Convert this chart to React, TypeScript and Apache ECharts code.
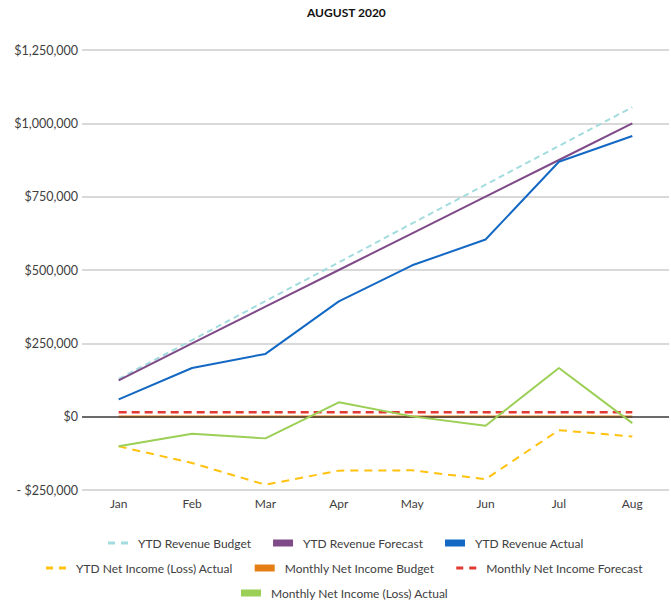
import React, { useEffect, useRef } from "react";
import * as echarts from "echarts";

const months = ["Jan", "Feb", "Mar", "Apr", "May", "Jun", "Jul", "Aug"];
const ytdRevenueBudget = [129000, 261000, 394000, 526000, 659000, 791000, 923000, 1055000];
const ytdRevenueForecast = [124000, 250000, 375000, 500000, 625000, 750000, 875000, 1000000];
const ytdRevenueActual = [59000, 166000, 214000, 393000, 516000, 604000, 869000, 957000];
const ytdNetIncomeActual = [-101000, -158000, -232000, -184000, -183000, -213000, -46000, -68000];
const monthlyNetIncomeBudget = [0, 0, 0, 0, 0, 0, 0, 0];
const monthlyNetIncomeForecast = [15000, 15000, 15000, 15000, 15000, 15000, 15000, 15000];
const monthlyNetIncomeActual = [-101000, -58000, -74000, 49000, 1000, -31000, 166000, -22000];

const FONT = "Lato";
const TXT = "#404040";
const DASH_ICON = "path://M0,0H7V3H0Z M13,0H20V3H13Z";

function fmt(v: number) {
  if (v === 0) return "$0";
  const s = "$" + Math.abs(v).toLocaleString("en-US");
  return v < 0 ? "- " + s : s;
}

export default function App() {
  const ref = useRef<HTMLDivElement>(null);
  useEffect(() => {
    document.body.style.margin = "0";
    const chart = echarts.init(ref.current!, null, { renderer: "svg" });
    const legendBase = {
      itemWidth: 20,
      itemHeight: 7,
      itemGap: 22,
      textStyle: { fontFamily: FONT, fontSize: 12, color: TXT, padding: [0, 0, 0, 5] },
    };
    chart.setOption({
      animation: false,
      textStyle: { fontFamily: FONT },
      title: {
        text: "AUGUST 2020",
        left: 302,
        top: 1,
        textStyle: { fontFamily: FONT, fontSize: 12, fontWeight: "bold", color: "#111" },
      },
      legend: [
        {
          ...legendBase,
          left: 103,
          top: 532,
          data: [
            { name: "YTD Revenue Budget", icon: DASH_ICON },
            { name: "YTD Revenue Forecast", icon: "rect" },
            { name: "YTD Revenue Actual", icon: "rect" },
          ],
        },
        {
          ...legendBase,
          left: 41,
          top: 557,
          data: [
            { name: "YTD Net Income (Loss) Actual", icon: DASH_ICON },
            { name: "Monthly Net Income Budget", icon: "rect" },
            { name: "Monthly Net Income Forecast", icon: DASH_ICON },
          ],
        },
        {
          ...legendBase,
          left: 236,
          top: 582,
          data: [{ name: "Monthly Net Income (Loss) Actual", icon: "rect" }],
        },
      ],
      grid: { left: 82, right: 2, top: 50, bottom: 112 },
      xAxis: {
        type: "category",
        data: months,
        boundaryGap: true,
        axisLine: { show: false },
        axisTick: { show: false },
        axisLabel: { color: TXT, fontFamily: FONT, fontSize: 12, margin: 7 },
      },
      yAxis: {
        type: "value",
        min: -250000,
        max: 1250000,
        interval: 250000,
        axisLine: { show: false },
        axisTick: { show: false },
        splitLine: { lineStyle: { color: "#d9d9d9", width: 2 } },
        axisLabel: { color: TXT, fontFamily: FONT, fontSize: 12.5, margin: 4, formatter: fmt },
      },
      series: [
        {
          name: "YTD Revenue Budget",
          type: "line",
          data: ytdRevenueBudget,
          symbol: "none",
          color: "#A3DCDE",
          lineStyle: { width: 2, type: [6, 4], color: "#A3DCDE" },
          markLine: {
            silent: true,
            symbol: "none",
            label: { show: false },
            lineStyle: { color: "#444", width: 1.5, type: "solid" },
            data: [{ yAxis: 0 }],
          },
        },
        {
          name: "YTD Revenue Forecast",
          type: "line",
          data: ytdRevenueForecast,
          symbol: "none",
          color: "#7F4A88",
          lineStyle: { width: 2, color: "#7F4A88" },
        },
        {
          name: "YTD Revenue Actual",
          type: "line",
          data: ytdRevenueActual,
          symbol: "none",
          color: "#1368C4",
          lineStyle: { width: 2, color: "#1368C4" },
        },
        {
          name: "YTD Net Income (Loss) Actual",
          type: "line",
          data: ytdNetIncomeActual,
          symbol: "none",
          color: "#FFC20E",
          lineStyle: { width: 2, type: [8, 6], color: "#FFC20E" },
        },
        {
          name: "Monthly Net Income Budget",
          type: "line",
          z: 4,
          data: monthlyNetIncomeBudget,
          symbol: "none",
          color: "#E67E16",
          lineStyle: { width: 2.5, color: "#E67E16" },
        },
        {
          name: "Monthly Net Income Forecast",
          type: "line",
          data: monthlyNetIncomeForecast,
          symbol: "none",
          color: "#E23A32",
          lineStyle: { width: 2.5, type: [8, 5], color: "#E23A32" },
        },
        {
          name: "Monthly Net Income (Loss) Actual",
          type: "line",
          z: 5,
          data: monthlyNetIncomeActual,
          symbol: "none",
          color: "#9BCF55",
          lineStyle: { width: 2, color: "#9BCF55" },
        },
      ],
    });
    return () => chart.dispose();
  }, []);
  return <div ref={ref} style={{ position: "absolute", left: 0, top: 0, width: 671, height: 602 }} />;
}
